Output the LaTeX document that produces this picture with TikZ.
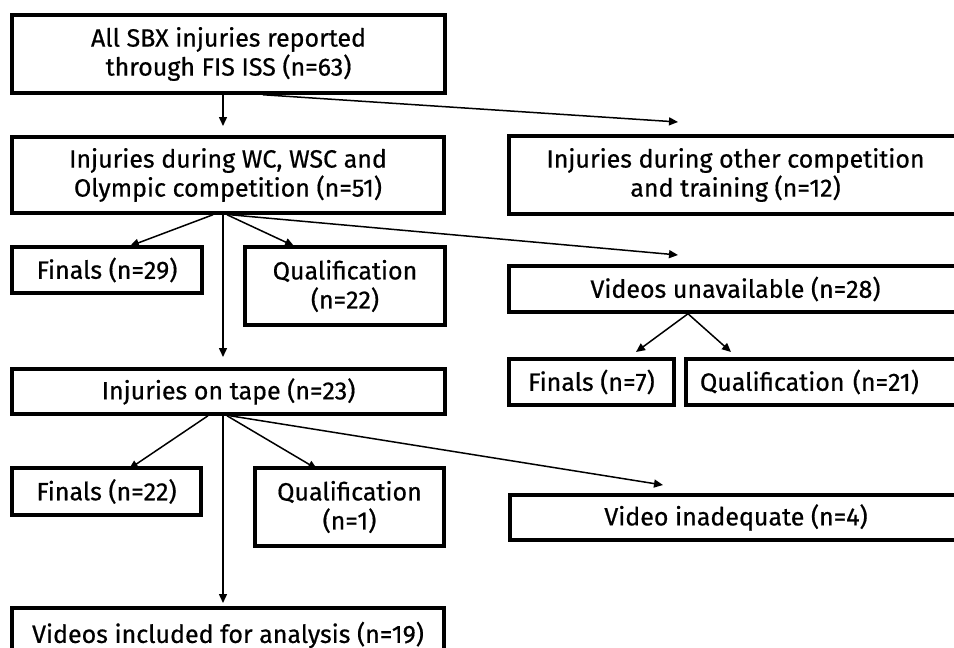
\documentclass[tikz,border=0pt]{standalone}
\usepackage{fontspec}
\setmainfont{Fira Sans}[FakeBold=0.6]
\usetikzlibrary{arrows.meta}
\tikzset{
  box/.style={draw=black, line width=3.5pt, fill=white, align=center, inner sep=0pt,
    font=\fontsize{25}{29}\selectfont},
  conn/.style={line width=1.5pt, -{Triangle[length=9pt,width=8pt]}},
}
\begin{document}
\begin{tikzpicture}[x=1pt,y=-1pt]
\useasboundingbox (0,0) rectangle (954,648);
\clip (0,0) rectangle (954,648);
\fill[white] (0,0) rectangle (954,648);
% boxes
\node[box, minimum width=433pt, minimum height=78pt] (b1) at (228.5,54) {All SBX injuries reported\\through FIS ISS (n=63)};
\node[box, minimum width=432pt, minimum height=76pt] (b2) at (228,175) {Injuries during WC, WSC and\\Olympic competition (n=51)};
\node[box, minimum width=453pt, minimum height=78pt] (b3) at (735.5,175) {Injuries during other competition\\and training (n=12)};
\node[box, minimum width=190pt, minimum height=46pt] (f29) at (107,270) {Finals (n=29)};
\node[box, minimum width=200pt, minimum height=78pt] (q22) at (345,286) {Qualification\\(n=22)};
\node[box, minimum width=453pt, minimum height=46pt] (vu) at (735.5,289) {Videos unavailable (n=28)};
\node[box, minimum width=165pt, minimum height=46pt] (f7) at (591.5,382) {Finals (n=7)};
\node[box, minimum width=276pt, minimum height=46pt, text width=248pt, align=left, inner xsep=14pt] (q21) at (824,382) {Qualification (n=21)};
\node[box, minimum width=433pt, minimum height=45pt] (tape) at (228.5,391.5) {Injuries on tape (n=23)};
\node[box, minimum width=189pt, minimum height=47pt] (f22) at (106.5,491.5) {Finals (n=22)};
\node[box, minimum width=189pt, minimum height=78pt] (q1) at (349.5,507) {Qualification\\(n=1)};
\node[box, minimum width=452pt, minimum height=45pt] (vi) at (736,517.5) {Video inadequate (n=4)};
\node[box, minimum width=432pt, minimum height=54pt] (via) at (228,635) {Videos included for analysis (n=19)};
% arrow ends
\coordinate (t1) at (223,126);
\coordinate (t2) at (678,122);
\coordinate (t3) at (130,246);
\coordinate (t4) at (294,246);
\coordinate (t5) at (223,357);
\coordinate (t6) at (678,255);
\coordinate (t7) at (636,352);
\coordinate (t8) at (731,352);
\coordinate (t9) at (129,469);
\coordinate (t10) at (317,469);
\coordinate (t11) at (663,485);
\coordinate (t12) at (223,603);
% connectors
\draw[conn] (b1.south -| t1) -- (t1);
\draw[conn] ([xshift=34.5pt]b1.south) -- (t2);
\draw[conn] ([xshift=-15pt]b2.south) -- (t3);
\draw[conn] ([xshift=-1pt]b2.south) -- (t4);
\draw[conn] (b2.south -| t5) -- (t5);
\draw[conn] ([xshift=2pt]b2.south) -- (t6);
\draw[conn] ([xshift=-47.5pt]vu.south) -- (t7);
\draw[conn] ([xshift=-47.5pt]vu.south) -- (t8);
\draw[conn] ([xshift=-20.5pt]tape.south) -- (t9);
\draw[conn] ([xshift=-1.5pt]tape.south) -- (t10);
\draw[conn] ([xshift=1.5pt]tape.south) -- (t11);
\draw[conn] (tape.south -| t12) -- (t12);
\end{tikzpicture}
\end{document}
